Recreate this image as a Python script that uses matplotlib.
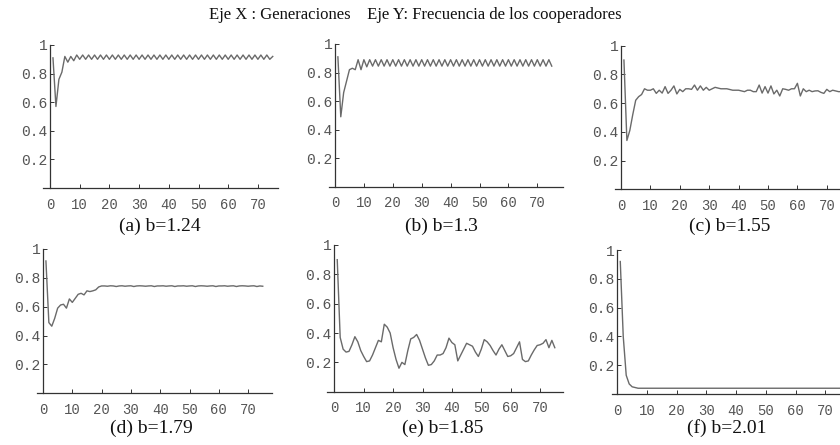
import matplotlib
matplotlib.use("Agg")
import matplotlib.pyplot as plt

# generaciones
gen = list(range(1, 76))

freq_a = [0.91, 0.57, 0.76, 0.81, 0.92, 0.88, 0.92, 0.89,
          0.93, 0.90, 0.93, 0.90, 0.93, 0.90, 0.93, 0.90, 0.93, 0.90,
          0.93, 0.90, 0.93, 0.90, 0.93, 0.90, 0.93, 0.90, 0.93, 0.90,
          0.93, 0.90, 0.93, 0.90, 0.93, 0.90, 0.93, 0.90, 0.93, 0.90,
          0.93, 0.90, 0.93, 0.90, 0.93, 0.90, 0.93, 0.90, 0.93, 0.90,
          0.93, 0.90, 0.93, 0.90, 0.93, 0.90, 0.93, 0.90, 0.93, 0.90,
          0.93, 0.90, 0.93, 0.90, 0.93, 0.90, 0.93, 0.90, 0.93, 0.90,
          0.93, 0.90, 0.93, 0.90, 0.93, 0.90, 0.92]

freq_b = [0.91, 0.49, 0.66, 0.74, 0.82, 0.83, 0.82, 0.89, 0.82, 0.89, 0.84,
          0.89, 0.845, 0.89, 0.845, 0.89, 0.845, 0.89, 0.845, 0.89, 0.845,
          0.89, 0.845, 0.89, 0.845, 0.89, 0.845, 0.89, 0.845, 0.89, 0.845,
          0.89, 0.845, 0.89, 0.845, 0.89, 0.845, 0.89, 0.845, 0.89, 0.845,
          0.89, 0.845, 0.89, 0.845, 0.89, 0.845, 0.89, 0.845, 0.89, 0.845,
          0.89, 0.845, 0.89, 0.845, 0.89, 0.845, 0.89, 0.845, 0.89, 0.845,
          0.89, 0.845, 0.89, 0.845, 0.89, 0.845, 0.89, 0.845, 0.89, 0.845,
          0.89, 0.845, 0.89, 0.845]

freq_c = [0.90, 0.34, 0.41, 0.52, 0.62, 0.645, 0.66, 0.70, 0.69, 0.69,
          0.70, 0.668, 0.69, 0.67, 0.715, 0.668, 0.69, 0.72, 0.664, 0.696,
          0.68, 0.70, 0.70, 0.696, 0.726, 0.69, 0.72, 0.69, 0.71, 0.69,
          0.70, 0.71, 0.705, 0.70, 0.70, 0.70, 0.695, 0.69, 0.69, 0.69,
          0.685, 0.68, 0.69, 0.69, 0.68, 0.68, 0.726, 0.67, 0.715, 0.67,
          0.72, 0.664, 0.69, 0.65, 0.70, 0.696, 0.69, 0.70, 0.70, 0.738,
          0.65, 0.70, 0.68, 0.69, 0.68, 0.685, 0.686, 0.675, 0.668, 0.696,
          0.68, 0.69, 0.685, 0.68, 0.68]

freq_d = [0.917, 0.49, 0.465, 0.52, 0.59, 0.612, 0.617, 0.59, 0.654, 0.63,
          0.658, 0.686, 0.693, 0.682, 0.71, 0.705, 0.71, 0.717, 0.737, 0.744,
          0.744, 0.742, 0.745, 0.744, 0.74, 0.744, 0.745, 0.742, 0.744, 0.745,
          0.74, 0.744, 0.745, 0.744, 0.742, 0.744, 0.745, 0.74, 0.744, 0.744,
          0.745, 0.742, 0.744, 0.745, 0.74, 0.744, 0.744, 0.745, 0.742, 0.744,
          0.745, 0.74, 0.744, 0.745, 0.744, 0.742, 0.744, 0.745, 0.74, 0.744,
          0.744, 0.745, 0.742, 0.744, 0.745, 0.74, 0.744, 0.745, 0.744, 0.742,
          0.744, 0.745, 0.74, 0.744, 0.742]

freq_e = [0.90, 0.37, 0.29, 0.27, 0.275, 0.32, 0.375, 0.34, 0.28, 0.24,
          0.205, 0.21, 0.25, 0.30, 0.35, 0.34, 0.46, 0.44, 0.40, 0.30,
          0.22, 0.16, 0.20, 0.185, 0.28, 0.36, 0.37, 0.39, 0.35, 0.29,
          0.23, 0.18, 0.185, 0.21, 0.25, 0.25, 0.26, 0.30, 0.365, 0.335,
          0.32, 0.21, 0.25, 0.29, 0.33, 0.32, 0.31, 0.27, 0.24, 0.29,
          0.355, 0.34, 0.315, 0.28, 0.25, 0.29, 0.32, 0.28, 0.24, 0.245,
          0.26, 0.30, 0.34, 0.22, 0.205, 0.21, 0.25, 0.285, 0.315, 0.32,
          0.33, 0.355, 0.30, 0.35, 0.30]

freq_f = [0.92, 0.40, 0.13, 0.07, 0.05, 0.045, 0.04, 0.04, 0.04, 0.04,
          0.04, 0.04, 0.04, 0.04, 0.04, 0.04, 0.04, 0.04, 0.04, 0.04,
          0.04, 0.04, 0.04, 0.04, 0.04, 0.04, 0.04, 0.04, 0.04, 0.04,
          0.04, 0.04, 0.04, 0.04, 0.04, 0.04, 0.04, 0.04, 0.04, 0.04,
          0.04, 0.04, 0.04, 0.04, 0.04, 0.04, 0.04, 0.04, 0.04, 0.04,
          0.04, 0.04, 0.04, 0.04, 0.04, 0.04, 0.04, 0.04, 0.04, 0.04,
          0.04, 0.04, 0.04, 0.04, 0.04, 0.04, 0.04, 0.04, 0.04, 0.04,
          0.04, 0.04, 0.04, 0.04, 0.04]

series = [freq_a, freq_b, freq_c, freq_d, freq_e, freq_f]
titles = ["(a) b=1.24", "(b) b=1.3", "(c) b=1.55",
          "(d) b=1.79", "(e) b=1.85", "(f) b=2.01"]
xticks = [0, 10, 20, 30, 40, 50, 60, 70]
yticks = [0.2, 0.4, 0.6, 0.8, 1.0]
ylabels = ["0.2", "0.4", "0.6", "0.8", "1"]

W, H = 840, 445
# pixel boxes: left, right, bottom(y=0), top(y=1), x of y-axis, px per generation
boxes = [(43, 278, 188, 45, 50, 2.97),
         (329, 563, 186.7, 44, 335, 2.89),
         (615, 840, 189.3, 45.7, 621, 2.94),
         (37, 272, 393.3, 249, 43, 2.93),
         (327, 563, 391.7, 245, 334.3, 2.94),
         (612, 840, 394, 250, 617.3, 2.97)]
title_y = [226, 226, 226, 428, 428, 428]

fig = plt.figure(figsize=(W / 100, H / 100), dpi=100)
axcol = "#333333"
lblcol = "#555555"
mono = "Liberation Mono"
serif = "Liberation Serif"

for i in range(6):
    l, r, b, t, x0, s = boxes[i]
    ax = fig.add_axes([l / W, (H - b) / H, (r - l) / W, (b - t) / H])
    ax.plot(gen, series[i], color="#6a6a6a", lw=1.0)
    ax.set_xlim((l - x0) / s, (r - x0) / s)
    ax.set_ylim(0, 1)
    ax.patch.set_visible(False)
    for side in ["top", "right"]:
        ax.spines[side].set_visible(False)
    ax.spines["left"].set_position(("data", 0))
    for side in ["left", "bottom"]:
        ax.spines[side].set_color(axcol)
        ax.spines[side].set_linewidth(0.9)
    ax.set_xticks(xticks)
    ax.set_xticklabels([str(v) for v in xticks], fontfamily=mono, fontsize=10, color=lblcol)
    ax.set_yticks(yticks)
    ax.set_yticklabels(ylabels, fontfamily=mono, fontsize=10.5, color=lblcol)
    ax.tick_params(axis="x", direction="in", length=3, width=0.7, color=axcol, pad=7)
    ax.tick_params(axis="y", direction="in", length=3, width=0.7, color=axcol, pad=2)
    fig.text((x0 + 37 * s) / W, 1 - title_y[i] / H, titles[i], family=serif,
             fontsize=14, ha="center", va="center", color="#111111")

fig.text(415 / W, 1 - 15 / H, "Eje X : Generaciones    Eje Y: Frecuencia de los cooperadores",
         family=serif, fontsize=12, ha="center", va="center", color="#111111")

fig.savefig("out.png", dpi=100)
